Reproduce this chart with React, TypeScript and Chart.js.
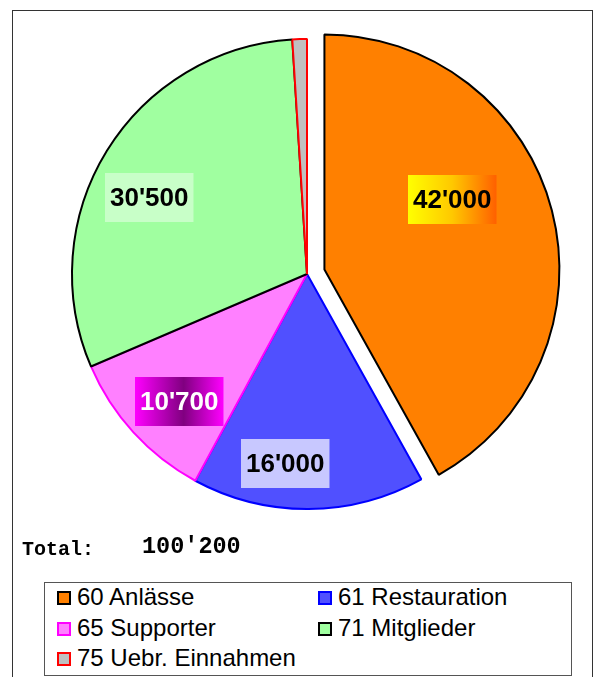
import React, { useEffect, useRef } from "react";
import { Chart, registerables } from "chart.js";

Chart.register(...registerables);

// ---- data ----
const categories: string[] = [
  "60 Anlässe",
  "61 Restauration",
  "65 Supporter",
  "71 Mitglieder",
  "75 Uebr. Einnahmen",
];
const values: number[] = [42000, 16000, 10700, 30500, 1000];

// ---- styles ----
const fillColors = ["#FF8000", "#5050FF", "#FF80FF", "#A0FFA0", "#C0C0C0"];
const borderColors = ["#000000", "#0000FF", "#FF00FF", "#000000", "#FF0000"];
const explode = [18, 0, 0, 0, 0];
// label placement: angle shift (deg) from slice middle, radius fraction (null = no label)
const labelAngleShift = [-14, 7, -2.6, -5.7, 0];
const labelRadiusFrac: (number | null)[] = [0.62, 0.81, 0.77, 0.745, null];
const labelTextColors = ["#000000", "#000000", "#FFFFFF", "#000000", "#000000"];

const fmt = (n: number) => String(n).replace(/\B(?=(\d{3})+(?!\d))/g, "'");
const total = values.reduce((a, b) => a + b, 0);

function labelFill(ctx: CanvasRenderingContext2D, i: number, x0: number, x1: number) {
  if (i === 0) {
    const g = ctx.createLinearGradient(x0, 0, x1, 0);
    g.addColorStop(0, "#FFFF00");
    g.addColorStop(0.5, "#FFC800");
    g.addColorStop(1, "#FF6000");
    return g;
  }
  if (i === 2) {
    const g = ctx.createLinearGradient(x0, 0, x1, 0);
    g.addColorStop(0, "#FF00FF");
    g.addColorStop(0.55, "#800080");
    g.addColorStop(1, "#FF00FF");
    return g;
  }
  if (i === 1) return "#C8C8FF";
  if (i === 3) return "#C8FFC8";
  return "#FFFFFF";
}

const explodePlugin = {
  id: "explodeSlices",
  beforeDatasetsDraw(chart: any) {
    const meta = chart.getDatasetMeta(0);
    meta.data.forEach((arc: any, i: number) => {
      const d = explode[i] || 0;
      if (!d || arc.__wrapped) return;
      const base = arc.draw.bind(arc);
      arc.draw = (ctx: CanvasRenderingContext2D) => {
        const mid = (arc.startAngle + arc.endAngle) / 2;
        ctx.save();
        ctx.translate(Math.cos(mid) * d, Math.sin(mid) * d);
        base(ctx);
        ctx.restore();
      };
      arc.__wrapped = true;
    });
  },
};

const labelPlugin = {
  id: "sliceLabels",
  afterDatasetsDraw(chart: any) {
    const ctx: CanvasRenderingContext2D = chart.ctx;
    const meta = chart.getDatasetMeta(0);
    ctx.save();
    ctx.font = "bold 26px 'Liberation Sans', Arial, sans-serif";
    ctx.textAlign = "center";
    ctx.textBaseline = "middle";
    meta.data.forEach((arc: any, i: number) => {
      const frac = labelRadiusFrac[i];
      if (frac == null) return;
      const mid = (arc.startAngle + arc.endAngle) / 2;
      const d = explode[i] || 0;
      const cx = arc.x + Math.cos(mid) * d;
      const cy = arc.y + Math.sin(mid) * d;
      const a = mid + (labelAngleShift[i] * Math.PI) / 180;
      const x = cx + Math.cos(a) * arc.outerRadius * frac;
      const y = cy + Math.sin(a) * arc.outerRadius * frac;
      const text = fmt(values[i]);
      const w = ctx.measureText(text).width + 10;
      const h = 49;
      const x0 = Math.round(x - w / 2);
      const y0 = Math.round(y - h / 2);
      ctx.fillStyle = labelFill(ctx, i, x0, x0 + w) as any;
      ctx.fillRect(x0, y0, w, h);
      ctx.fillStyle = labelTextColors[i];
      ctx.fillText(text, x0 + w / 2, y0 + h / 2 + 1);
    });
    ctx.restore();
  },
};

export default function App() {
  const ref = useRef<HTMLCanvasElement>(null);
  useEffect(() => {
    if (!ref.current) return;
    const chart = new Chart(ref.current, {
      type: "pie",
      data: {
        labels: categories,
        datasets: [
          {
            data: values,
            backgroundColor: fillColors,
            borderColor: borderColors,
            borderWidth: 2,
            radius: 235,
          } as any,
        ],
      },
      options: {
        animation: false,
        responsive: false,
        maintainAspectRatio: false,
        layout: { padding: { left: 18, right: 0, top: 0, bottom: 0 } },
        plugins: {
          legend: { display: false },
          tooltip: { enabled: false },
        },
      },
      plugins: [explodePlugin, labelPlugin],
    });
    return () => chart.destroy();
  }, []);

  return (
    <div
      style={{
        position: "fixed",
        left: 0,
        top: 0,
        width: 596,
        height: 677,
        background: "#fff",
        overflow: "hidden",
      }}
    >
      <div
        style={{
          position: "absolute",
          left: 12,
          top: 10,
          width: 579,
          height: 720,
          border: "1px solid #333",
        }}
      />
      <canvas
        ref={ref}
        width={596}
        height={548}
        style={{ position: "absolute", left: 0, top: 0, width: 596, height: 548 }}
      />
      <div
        style={{
          position: "absolute",
          left: 22,
          top: 540,
          fontFamily: "'Liberation Mono', 'Courier New', monospace",
          fontWeight: "bold",
          fontSize: 20,
          lineHeight: "20px",
          color: "#000",
          whiteSpace: "pre",
        }}
      >
        Total:
      </div>
      <div
        style={{
          position: "absolute",
          left: 142,
          top: 535,
          fontFamily: "'Liberation Mono', 'Courier New', monospace",
          fontWeight: "bold",
          fontSize: 23.5,
          lineHeight: "24px",
          color: "#000",
          whiteSpace: "pre",
        }}
      >
        {fmt(total)}
      </div>
      <div
        style={{
          position: "absolute",
          left: 44,
          top: 582,
          width: 526,
          height: 92,
          border: "1px solid #555",
        }}
      />
      {categories.map((c, i) => {
        const col = i % 2;
        const row = Math.floor(i / 2);
        const left = 57 + col * 261;
        const cy = 598 + row * 30.5;
        return (
          <div key={c}>
            <div
              style={{
                position: "absolute",
                left,
                top: cy - 7,
                width: 14,
                height: 14,
                boxSizing: "border-box",
                background: fillColors[i],
                border: `2px solid ${borderColors[i]}`,
              }}
            />
            <div
              style={{
                position: "absolute",
                left: left + 20,
                top: cy - 15,
                height: 28,
                lineHeight: "28px",
                fontFamily: "'Liberation Sans', Arial, sans-serif",
                fontSize: 24,
                color: "#000",
                whiteSpace: "nowrap",
              }}
            >
              {c}
            </div>
          </div>
        );
      })}
    </div>
  );
}
